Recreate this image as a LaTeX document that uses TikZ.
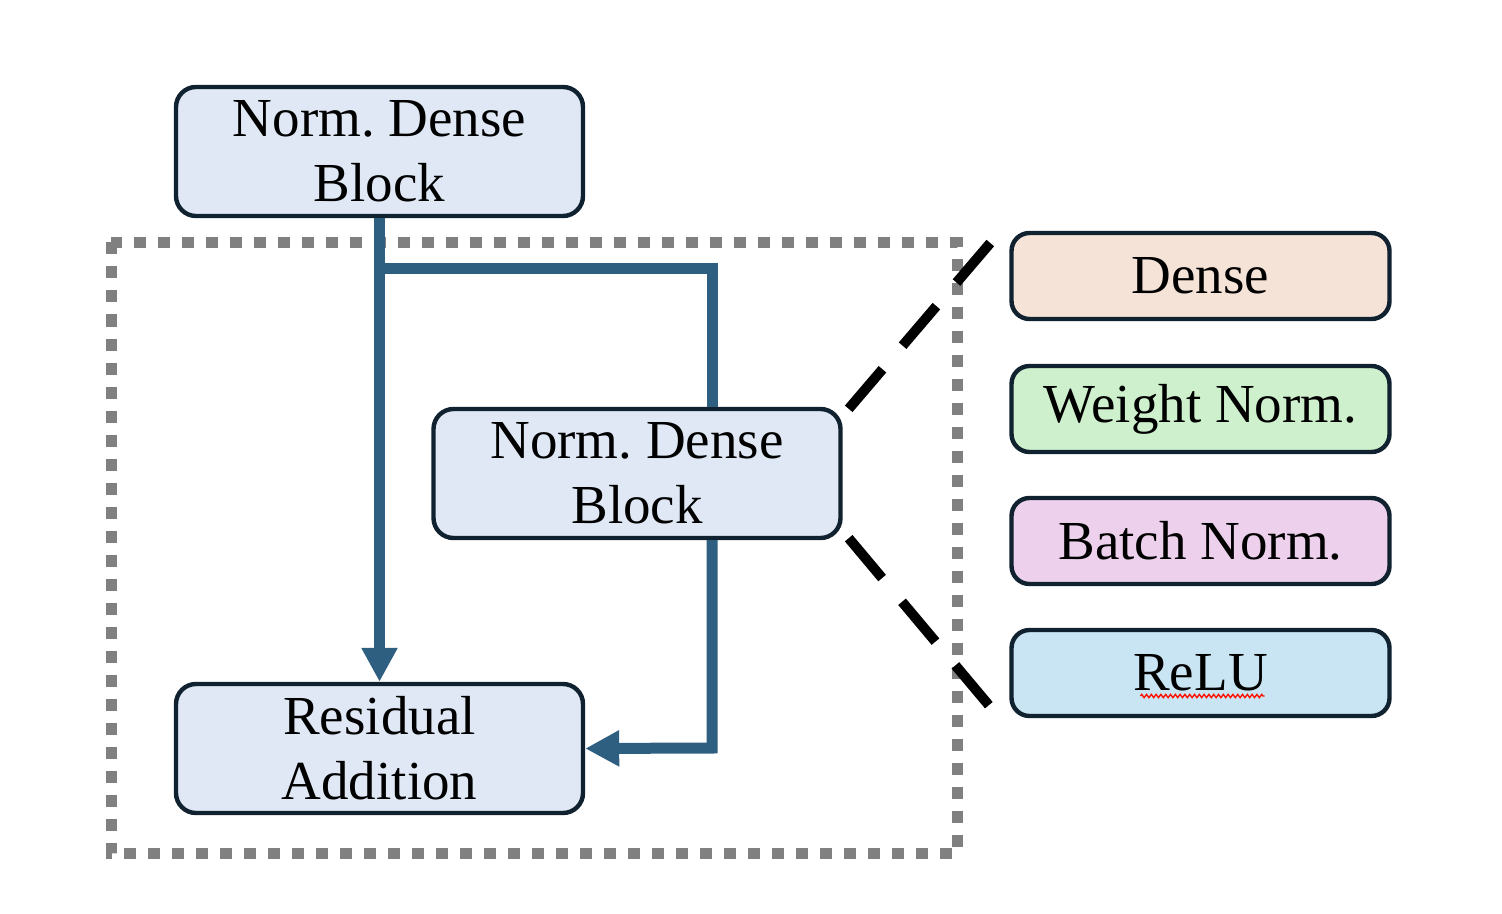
\documentclass[tikz,border=0pt]{standalone}
\usepackage{fontspec}
\setmainfont{Liberation Serif}
\usetikzlibrary{arrows.meta,decorations.pathmorphing}
\definecolor{navy}{HTML}{10222F}
\definecolor{conn}{HTML}{2F5F80}
\definecolor{blockfill}{HTML}{DFE8F4}
\definecolor{densefill}{HTML}{F6E3D8}
\definecolor{wnfill}{HTML}{CEF0CD}
\definecolor{bnfill}{HTML}{EDD1EC}
\definecolor{relufill}{HTML}{C9E4F2}
\definecolor{dotgray}{HTML}{808080}
\tikzset{
  blockbox/.style={draw=navy, line width=2.2pt, rounded corners=10pt, fill=blockfill,
    minimum width=203.5pt, minimum height=64.5pt, align=center, inner sep=0pt,
    font=\fontsize{27.5}{32.5}\selectfont\frenchspacing},
  layerbox/.style={draw=navy, line width=2.2pt, rounded corners=9pt,
    minimum width=189pt, minimum height=43pt, align=center, inner sep=0pt,
    font=\fontsize{27.5}{32.5}\selectfont\frenchspacing},
  connline/.style={draw=conn, line width=5.5pt},
  conntip/.style={-{Triangle[length=17pt,width=17pt]}},
  zoomline/.style={draw=black, line width=5pt, dash pattern=on 26pt off 15.5pt},
  groupbox/.style={draw=dotgray, line width=5.5pt, dash pattern=on 6pt off 6pt},
}
\begin{document}
\begin{tikzpicture}[x=0.5pt,y=-0.5pt]
\useasboundingbox (0,0) rectangle (1502,914);
% group frame
\draw[groupbox] (111,242.5) rectangle (957.5,853.5);
% blocks
\node[blockbox] (top) at (379.5,151.5) {Norm. Dense\\Block};
\node[blockbox] (mid) at (637,473.5) {Norm. Dense\\Block};
\node[blockbox] (res) at (379.5,748.5) {Residual\\Addition};
% layers
\node[layerbox, fill=densefill] (dense) at (1200.5,276) {Dense};
\node[layerbox, fill=wnfill] (wn) at (1200.5,409) {Weight Norm.};
\node[layerbox, fill=bnfill] (bn) at (1200.5,541) {Batch Norm.};
\node[layerbox, fill=relufill] (relu) at (1200.5,673) {ReLU};
\draw[red!85!orange, line width=0.7pt, decorate, decoration={zigzag, amplitude=0.8pt, segment length=2.4pt}]
  ([xshift=-30pt,yshift=-11.5pt]relu.center) -- ([xshift=32pt,yshift=-11.5pt]relu.center);
% connectors
\coordinate (j) at (380,269);
\coordinate (k) at (712,269);
\coordinate (m) at (712,748);
\draw[connline, conntip] (top.south) -- (res.north);
\draw[connline] (j) -- (k) -- (k |- mid.north);
\draw[connline, conntip] (m |- mid.south) -- (m) -- (res.east);
% zoom lines
\coordinate (z1) at (992,241);
\coordinate (z2) at (992,709);
\draw[zoomline] ([xshift=3pt,yshift=-1pt]mid.north east) -- (z1);
\draw[zoomline] ([xshift=3pt,yshift=1pt]mid.south east) -- (z2);
\end{tikzpicture}
\end{document}
